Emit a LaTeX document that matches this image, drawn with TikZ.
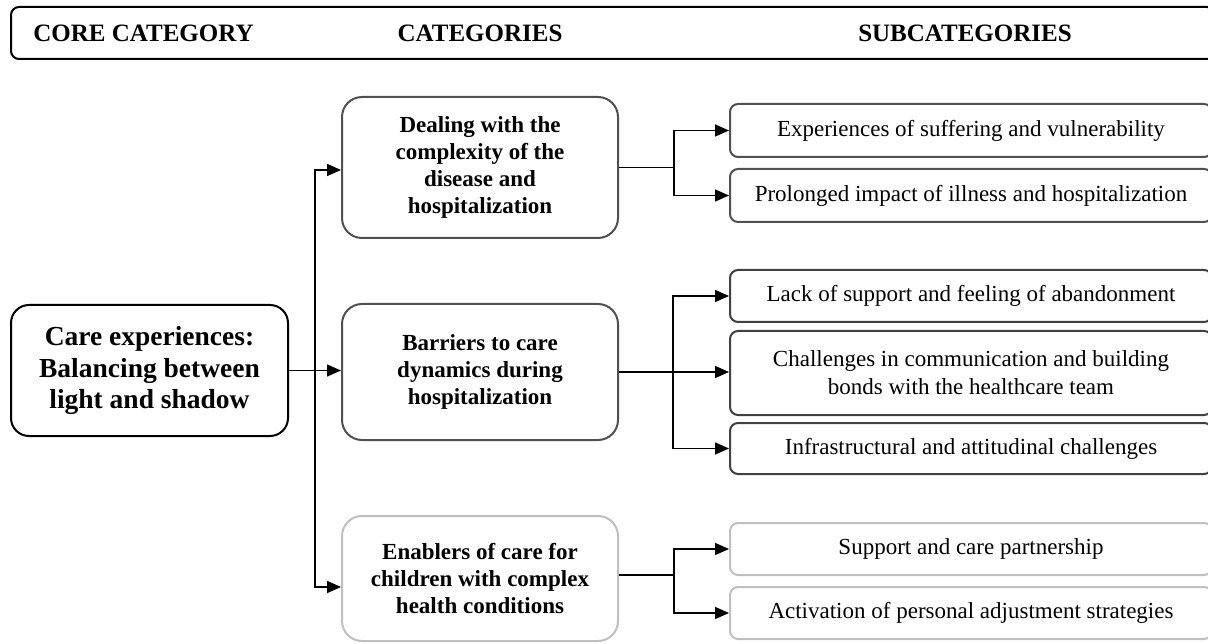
\documentclass[tikz,border=0pt]{standalone}
\usepackage{fontspec}
\setmainfont{Liberation Serif}
\usetikzlibrary{arrows.meta}
\definecolor{dkgray}{HTML}{505050}
\definecolor{dkgrayb}{HTML}{404040}
\definecolor{ltgray}{HTML}{BFBFBF}
\tikzset{
  hdrtext/.style={font=\fontsize{25}{30}\selectfont\bfseries, anchor=base},
  corebox/.style={draw=black, line width=2pt, rounded corners=18pt, align=center, inner sep=0pt,
    minimum width=277pt, minimum height=131pt, font=\fontsize{27.5}{31.5}\selectfont\bfseries},
  catbox/.style={line width=2pt, rounded corners=20pt, align=center, inner sep=0pt,
    minimum width=276pt, font=\fontsize{23}{27}\selectfont\bfseries},
  subbox/.style={line width=2pt, rounded corners=8pt, align=center, inner sep=0pt,
    minimum width=482pt, font=\fontsize{23}{28}\selectfont},
  arr/.style={line width=1.6pt, -{Triangle[length=14pt,width=12pt]}},
  ln/.style={line width=1.6pt},
}
\begin{document}
\begin{tikzpicture}[x=1pt,y=-1pt]
\useasboundingbox (0,0) rectangle (1208,644);
\clip (0,0) rectangle (1208,644);
% header
\node[draw=black, line width=2pt, rounded corners=8pt, minimum width=1204pt, minimum height=52pt, inner sep=0pt] (header) at (613,33) {};
\node[hdrtext] (h1) at (143.5,42) {CORE CATEGORY};
\node[hdrtext] (h2) at (480,42) {CATEGORIES};
\node[hdrtext] (h3) at (965,42) {SUBCATEGORIES};
% core
\node[corebox] (core) at (149.5,370.5) {Care experiences:\\Balancing between\\light and shadow};
% categories
\node[catbox, draw=dkgray, minimum height=141pt] (dealing) at (480,167.5) {Dealing with the\\complexity of the\\disease and\\hospitalization};
\node[catbox, draw=dkgray, minimum height=136pt] (barriers) at (480,372) {Barriers to care\\dynamics during\\hospitalization};
\node[catbox, draw=ltgray, minimum height=125pt] (enablers) at (480,578.5) {Enablers of care for\\children with complex\\health conditions};
% subcategories
\node[subbox, draw=dkgray, minimum height=53pt] (exp) at (971,130.5) {Experiences of suffering and vulnerability};
\node[subbox, draw=dkgray, minimum height=53pt] (prol) at (971,195.5) {Prolonged impact of illness and hospitalization};
\node[subbox, draw=dkgrayb, minimum height=52pt] (lack) at (971,296) {Lack of support and feeling of abandonment};
\node[subbox, draw=dkgrayb, minimum height=84pt] (chall) at (971,373) {Challenges in communication and building\\bonds with the healthcare team};
\node[subbox, draw=dkgrayb, minimum height=51pt] (infra) at (971,448.5) {Infrastructural and attitudinal challenges};
\node[subbox, draw=ltgray, minimum height=52pt] (supp) at (971,549) {Support and care partnership};
\node[subbox, draw=ltgray, minimum height=52pt] (activ) at (971,613) {Activation of personal adjustment strategies};
% left connectors
\draw[arr] (core.east) -- (barriers.west |- core.east);
\coordinate (jA) at (315,370.5);
\draw[arr] (jA) |- ([yshift=-2.5pt]dealing.west);
\draw[arr] (jA) |- ([yshift=-8.5pt]enablers.west);
% dealing connectors
\draw[ln] (dealing.east) -- ++(55,0) coordinate (jD);
\draw[arr] (jD) |- (exp.west);
\draw[arr] (jD) |- (prol.west);
% barriers connectors
\draw[arr] (barriers.east) -- (chall.west |- barriers.east);
\coordinate (jB) at (673,372);
\draw[arr] (jB) |- (lack.west);
\draw[arr] (jB) |- (infra.west);
% enablers connectors
\draw[ln] ([yshift=3.5pt]enablers.east) -- ++(55,0) coordinate (jE);
\draw[arr] (jE) |- (supp.west);
\draw[arr] (jE) |- (activ.west);
\end{tikzpicture}
\end{document}
